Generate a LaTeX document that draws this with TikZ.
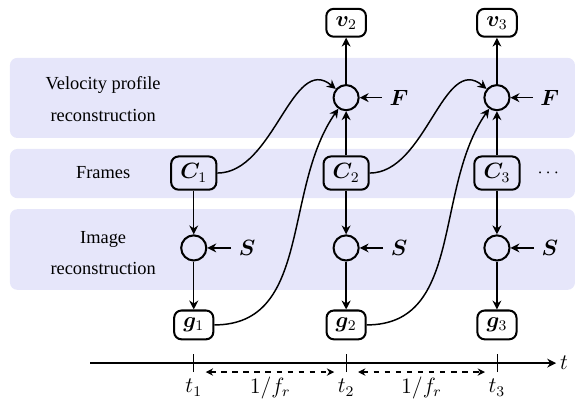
\documentclass[tikz,border=0pt]{standalone}
\usepackage[no-math]{fontspec}
\setmainfont{Liberation Serif}
\usepackage{bm}
\usepackage{tikz}
\usetikzlibrary{arrows.meta}
\definecolor{lane}{RGB}{230,230,250}

\begin{document}
\begin{tikzpicture}[
  lanebg/.style={fill=lane,draw=none,rounded corners=4pt},
  lanelab/.style={align=center,font=\normalsize},
  var/.style={draw,line width=1.1pt,rounded corners=4pt,inner xsep=5pt,inner ysep=4pt,font=\large},
  op/.style={draw,line width=1.1pt,circle,minimum size=0.48cm,inner sep=0pt},
  inp/.style={inner sep=2pt,font=\large},
  arr/.style={-{Stealth[length=1.7mm,width=1.7mm]},thick},
  span/.style={{Stealth[length=1.4mm,width=1.4mm]}-{Stealth[length=1.4mm,width=1.4mm]},semithick,dashed,shorten <=6.5pt,shorten >=6.5pt}]
\useasboundingbox (0,0) rectangle (11,7.735);
% lanes
\fill[lanebg] (0.19,5.10) rectangle (10.98,6.63);
\fill[lanebg] (0.19,3.95) rectangle (10.98,4.89);
\fill[lanebg] (0.19,2.20) rectangle (10.98,3.74);
\node[lanelab] (lvel) at (1.97,5.84) {Velocity profile\\[5pt]reconstruction};
\node[lanelab] (lfr) at (1.97,4.43) {Frames};
\node[lanelab] (limg) at (1.97,2.90) {Image\\[5pt]reconstruction};
% frames
\node[var] (c1) at (3.70,4.43) {$\bm{C}_1$};
\node[var] (c2) at (6.61,4.43) {$\bm{C}_2$};
\node[var] (c3) at (9.49,4.43) {$\bm{C}_3$};
\node (dots) at (10.47,4.43) {$\cdots$};
% image reconstruction
\node[op] (s1) at (3.70,3.00) {};
\node[op] (s2) at (6.61,3.00) {};
\node[op] (s3) at (9.49,3.00) {};
\node[inp] (ls1) at (4.72,3.00) {$\bm{S}$};
\node[inp] (ls2) at (7.62,3.00) {$\bm{S}$};
\node[inp] (ls3) at (10.50,3.00) {$\bm{S}$};
\node[var] (g1) at (3.70,1.53) {$\bm{g}_1$};
\node[var] (g2) at (6.61,1.53) {$\bm{g}_2$};
\node[var] (g3) at (9.49,1.53) {$\bm{g}_3$};
% velocity profile reconstruction
\node[op] (f2) at (6.61,5.87) {};
\node[op] (f3) at (9.49,5.87) {};
\node[inp] (lf2) at (7.62,5.87) {$\bm{F}$};
\node[inp] (lf3) at (10.50,5.87) {$\bm{F}$};
\node[var] (v2) at (6.61,7.30) {$\bm{v}_2$};
\node[var] (v3) at (9.49,7.30) {$\bm{v}_3$};
% connections
\draw[arr] (c1) -- (s1);
\draw[arr] (c2) -- (s2);
\draw[arr] (c3) -- (s3);
\draw[arr] (s1) -- (g1);
\draw[arr] (s2) -- (g2);
\draw[arr] (s3) -- (g3);
\draw[arr] (c2) -- (f2);
\draw[arr] (c3) -- (f3);
\draw[arr] (f2) -- (v2);
\draw[arr] (f3) -- (v3);
\draw[arr,shorten <=2pt] (ls1) -- (s1);
\draw[arr,shorten <=2pt] (ls2) -- (s2);
\draw[arr,shorten <=2pt] (ls3) -- (s3);
\draw[arr,shorten <=2pt] (lf2) -- (f2);
\draw[arr,shorten <=2pt] (lf3) -- (f3);
\draw[arr] (c1.east) to[out=0,in=140] (f2);
\draw[arr] (c2.east) to[out=0,in=140] (f3);
\draw[arr] (g1.east) to[out=0,in=-125] (f2);
\draw[arr] (g2.east) to[out=0,in=-125] (f3);
% time axis
\coordinate (ax0) at (1.72,0.80);
\node[anchor=west,inner sep=2pt,font=\large] (tlab) at (10.62,0.80) {$t$};
\draw[arr] (ax0) -- (tlab.west);
\node[font=\large] (t1) at (3.70,0.33) {$t_1$};
\node[font=\large] (t2) at (6.61,0.33) {$t_2$};
\node[font=\large] (t3) at (9.49,0.33) {$t_3$};
\draw[thin] (3.70,0.63) -- (3.70,0.98);
\draw[thin] (6.61,0.63) -- (6.61,0.98);
\draw[thin] (9.49,0.63) -- (9.49,0.98);
\coordinate (d1) at (3.70,0.63);
\coordinate (d2) at (6.61,0.63);
\coordinate (d3) at (9.49,0.63);
\draw[span] (d1) -- (d2);
\draw[span] (d2) -- (d3);
\node[font=\large] (p1) at (5.16,0.33) {$1/f_r$};
\node[font=\large] (p2) at (8.05,0.33) {$1/f_r$};
\end{tikzpicture}
\end{document}
